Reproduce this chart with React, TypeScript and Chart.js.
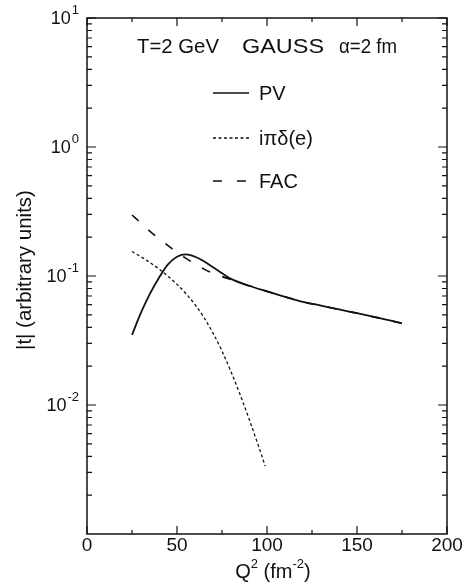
import React, { useEffect, useRef } from "react";
import { Chart, registerables } from "chart.js";

Chart.register(...registerables);

// Q^2 (fm^-2) and |t| values
const Q_PV = [25, 30, 35, 40, 45, 50, 55, 60, 65, 70, 75, 80, 90, 100, 110, 120, 130, 140, 150, 160, 175];
const PV = [0.035, 0.052, 0.073, 0.097, 0.123, 0.141, 0.147, 0.141, 0.130, 0.117, 0.105, 0.095, 0.084, 0.076, 0.069, 0.063, 0.059, 0.055, 0.0515, 0.048, 0.043];

const Q_DELTA = [25, 30, 35, 40, 45, 50, 55, 60, 65, 70, 75, 80, 85, 90, 95, 99];
const DELTA = [0.155, 0.141, 0.127, 0.1135, 0.0995, 0.0861, 0.0729, 0.06, 0.0476, 0.0361, 0.0262, 0.0181, 0.0121, 0.00782, 0.00493, 0.00337];

const Q_FAC = [25, 30, 35, 40, 45, 50, 55, 60, 65, 70, 75, 80, 90, 100, 110, 120, 130, 140, 150, 160, 175];
const FAC = [0.297, 0.257, 0.222, 0.195, 0.172, 0.152, 0.137, 0.124, 0.113, 0.105, 0.099, 0.094, 0.084, 0.076, 0.069, 0.063, 0.059, 0.055, 0.0515, 0.048, 0.043];

const X_TICKS = [0, 50, 100, 150, 200];
const X_MINOR = [25, 75, 125, 175];
const Y_EXPONENTS = [1, 0, -1, -2];
const Y_DECADES = [-3, -2, -1, 0];

const TITLE_PARTS = ["T=2 GeV", "GAUSS", "\u03b1=2 fm"];
const LEGEND_LABELS = ["PV", "i\u03c0\u03b4(e)", "FAC"];
const Y_TITLE = "|t| (arbitrary units)";

const FONT = "'Liberation Sans', Arial, sans-serif";

function pts(xs: number[], ys: number[]) {
  return xs.map((x, i) => ({ x, y: ys[i] }));
}

const decor = {
  id: "decor",
  afterDraw(chart: any) {
    const ctx = chart.ctx as any;
    const { left, right, top, bottom } = chart.chartArea;
    const xs = chart.scales.x;
    const ys = chart.scales.y;
    ctx.save();
    ctx.strokeStyle = "#111";
    ctx.fillStyle = "#111";
    ctx.lineWidth = 1.5;
    ctx.setLineDash([]);
    ctx.strokeRect(left, top, right - left, bottom - top);

    // x ticks
    ctx.lineWidth = 1.2;
    const vtick = (x: number, len: number) => {
      ctx.beginPath();
      ctx.moveTo(x, bottom);
      ctx.lineTo(x, bottom - len);
      ctx.moveTo(x, top);
      ctx.lineTo(x, top + len);
      ctx.stroke();
    };
    X_TICKS.forEach((v) => vtick(xs.getPixelForValue(v), 8));
    X_MINOR.forEach((v) => vtick(xs.getPixelForValue(v), 4));

    // y ticks
    const htick = (y: number, len: number) => {
      ctx.beginPath();
      ctx.moveTo(left, y);
      ctx.lineTo(left + len, y);
      ctx.moveTo(right, y);
      ctx.lineTo(right - len, y);
      ctx.stroke();
    };
    Y_DECADES.forEach((d) => {
      for (let m = 2; m <= 9; m++) htick(ys.getPixelForValue(m * Math.pow(10, d)), 5);
    });
    Y_EXPONENTS.forEach((e) => htick(ys.getPixelForValue(Math.pow(10, e)), 9));

    // x tick labels
    ctx.font = `19px ${FONT}`;
    ctx.textAlign = "center";
    ctx.textBaseline = "middle";
    X_TICKS.forEach((v) => ctx.fillText(String(v), xs.getPixelForValue(v), bottom + 12));

    // y tick labels with superscripts
    Y_EXPONENTS.forEach((e) => {
      const y = ys.getPixelForValue(Math.pow(10, e));
      const rightEdge = left - 8;
      ctx.font = `13px ${FONT}`;
      const sup = e < 0 ? "-" + Math.abs(e) : String(e);
      const sw = ctx.measureText(sup).width;
      ctx.textAlign = "left";
      ctx.fillText(sup, rightEdge - sw, y - 8);
      ctx.font = `18px ${FONT}`;
      ctx.textAlign = "right";
      ctx.fillText("10", rightEdge - sw - 1, y + 1);
    });

    // x title: Q^2 (fm^-2)
    const xc = (left + right) / 2 + 6;
    const ty = bottom + 38;
    const parts: [string, number, number][] = [
      ["Q", 20, 0],
      ["2", 13, -8],
      [" (fm", 20, 0],
      ["-2", 13, -8],
      [")", 20, 0],
    ];
    let tw = 0;
    parts.forEach(([s, f]) => {
      ctx.font = `${f}px ${FONT}`;
      tw += ctx.measureText(s).width;
    });
    let cx = xc - tw / 2;
    ctx.textAlign = "left";
    parts.forEach(([s, f, dy]) => {
      ctx.font = `${f}px ${FONT}`;
      ctx.fillText(s, cx, ty + dy);
      cx += ctx.measureText(s).width;
    });

    // y title
    ctx.save();
    ctx.translate(25, 270);
    ctx.rotate(-Math.PI / 2);
    ctx.font = `20.5px ${FONT}`;
    ctx.textAlign = "center";
    ctx.fillText(Y_TITLE, 0, 0);
    ctx.restore();

    // header text (each part fitted to the width it has in the reference)
    ctx.font = `20px ${FONT}`;
    ctx.textAlign = "left";
    const titleX = [137, 242, 339];
    const titleW = [82, 82, 58];
    TITLE_PARTS.forEach((s, i) => {
      const nat = ctx.measureText(s).width;
      ctx.save();
      ctx.translate(titleX[i], 47);
      ctx.scale(titleW[i] / nat, 1);
      ctx.fillText(s, 0, 0);
      ctx.restore();
    });

    // legend
    const lx0 = 213;
    const lx1 = 249;
    const rows = [93, 138, 181];
    const dashes = [[], [3, 2.5], [9, 15]];
    const widths = [1.6, 1.3, 1.6];
    rows.forEach((ry, i) => {
      ctx.beginPath();
      ctx.setLineDash(dashes[i]);
      ctx.lineWidth = widths[i];
      ctx.moveTo(lx0, ry);
      ctx.lineTo(lx1, ry);
      ctx.stroke();
      ctx.setLineDash([]);
      ctx.fillText(LEGEND_LABELS[i], 259, ry + 1);
    });
    ctx.restore();
  },
};

export default function App() {
  const ref = useRef<HTMLCanvasElement | null>(null);
  useEffect(() => {
    document.body.style.margin = "0";
    const canvas = ref.current!;
    const chart = new Chart(canvas, {
      type: "line",
      data: {
        datasets: [
          {
            label: "PV",
            data: pts(Q_PV, PV),
            borderColor: "#111",
            borderWidth: 1.8,
            pointRadius: 0,
            cubicInterpolationMode: "monotone",
          },
          {
            label: "i\u03c0\u03b4(e)",
            data: pts(Q_DELTA, DELTA),
            borderColor: "#111",
            borderWidth: 1.3,
            borderDash: [3, 2.5],
            pointRadius: 0,
            cubicInterpolationMode: "monotone",
          },
          {
            label: "FAC",
            data: pts(Q_FAC, FAC),
            borderColor: "#111",
            borderWidth: 1.6,
            borderDash: [9, 13],
            pointRadius: 0,
            cubicInterpolationMode: "monotone",
          },
        ],
      },
      options: {
        responsive: false,
        animation: false,
        events: [],
        layout: { padding: { left: 87, right: 22, top: 18, bottom: 54 } },
        plugins: { legend: { display: false }, tooltip: { enabled: false } },
        scales: {
          x: { type: "linear", min: 0, max: 200, display: false },
          y: { type: "logarithmic", min: 0.001, max: 10, display: false },
        },
      },
      plugins: [decor],
    });
    return () => chart.destroy();
  }, []);
  return (
    <div style={{ width: 469, height: 588, background: "#fff" }}>
      <canvas ref={ref} width={469} height={588} style={{ display: "block" }} />
    </div>
  );
}
